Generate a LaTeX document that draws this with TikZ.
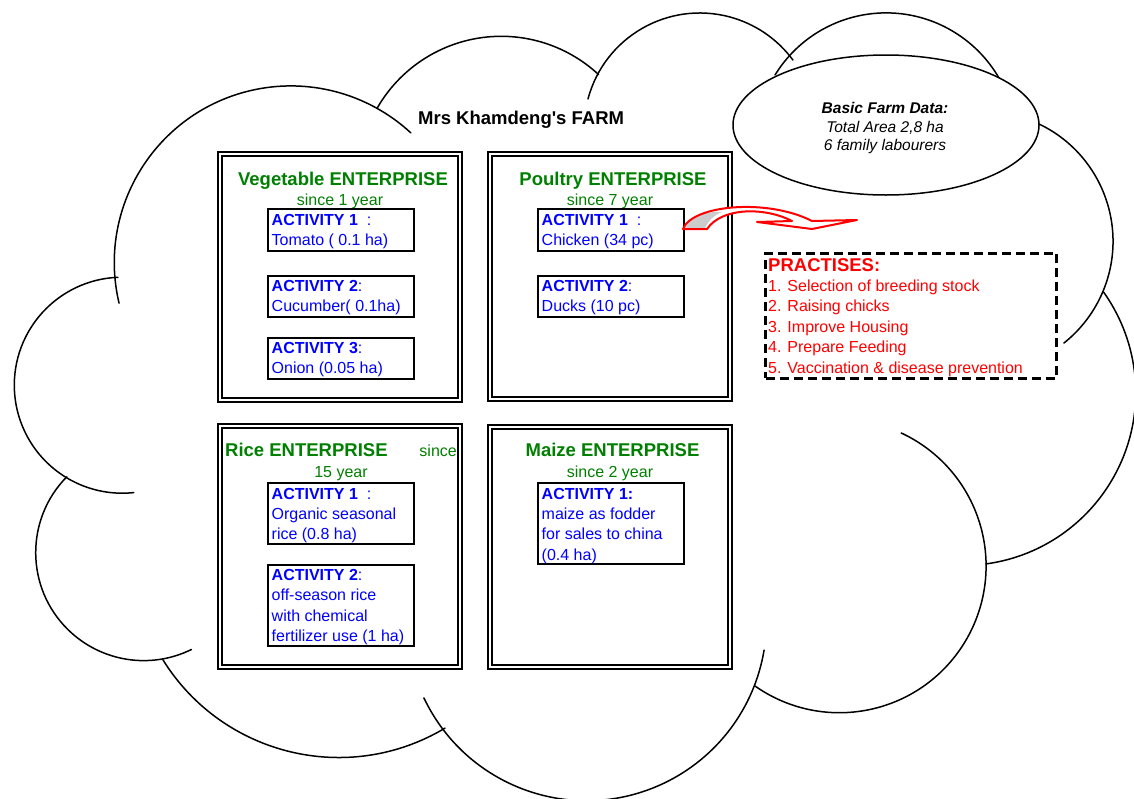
\documentclass[tikz,border=0pt]{standalone}
\usepackage{fontspec}
\setmainfont{Liberation Sans}
\newfontfamily\plainsans{Liberation Sans}[Ligatures=TeXOff]
\usetikzlibrary{shapes.geometric}
\definecolor{entgreen}{RGB}{0,128,0}
\definecolor{actblue}{RGB}{0,0,255}
\definecolor{pred}{RGB}{255,0,0}
\begin{document}
\begin{tikzpicture}[x=1pt,y=-1pt,
  cloudarc/.style={line width=1.5pt, black, line cap=round},
  entbox/.style={draw, line width=1.8pt, double, double distance=2.4pt, rectangle, inner sep=0, fill=white},
  actbox/.style={draw, line width=2pt, rectangle, inner sep=0, minimum width=145.4},
  enttitle/.style={anchor=base, inner sep=0, text=entgreen, font=\fontsize{18.5}{22}\selectfont\bfseries},
  since/.style={anchor=base, inner sep=0, text=entgreen, font=\fontsize{16}{19}\selectfont},
  lt/.style={anchor=base west, inner sep=0, text=actblue, font=\fontsize{16}{19}\selectfont},
  plt/.style={anchor=base west, inner sep=0, text=pred, font=\fontsize{16}{19}\selectfont},
  dt/.style={anchor=base, inner sep=0, text=black, font=\fontsize{15.5}{18}\selectfont\itshape}
]
\useasboundingbox (0,0) rectangle (1134,798);

% cloud outline (separate overlapping arcs)
\draw[cloudarc] (290.9,262.5) ++(166.7:176.6) arc[start angle=166.7, end angle=312.8, radius=176.6];
\draw[cloudarc] (501.2,179.3) ++(210:143) arc[start angle=210, end angle=312.9, radius=143];
\draw[cloudarc] (122.3,385.2) ++(267.7:108) arc[start angle=267.7, end angle=83.9, radius=108];
\draw[cloudarc] (143.7,552.6) ++(224.6:108) arc[start angle=224.6, end angle=63.8, radius=108];
\draw[cloudarc] (338.7,550.5) ++(148.1:207) arc[start angle=148.1, end angle=59.1, radius=207];
\draw[cloudarc] (586.5,620.7) ++(154.6:180) arc[start angle=154.6, end angle=9.4, radius=180];
\draw[cloudarc] (839.4,566) ++(125.1:146.7) arc[start angle=125.1, end angle=-65.1, radius=146.7];
\draw[cloudarc] (962.7,392.5) ++(82.3:173) arc[start angle=82.3, end angle=-35.5, radius=173];
\draw[cloudarc] (983,241.3) ++(294.5:130) arc[start angle=294.5, end angle=411.5, radius=130];
\draw[cloudarc] (886.1,143.3) ++(211.6:130.4) arc[start angle=211.6, end angle=330, radius=130.4];
\draw[cloudarc] (699.8,128.7) ++(194.9:115.7) arc[start angle=194.9, end angle=323.6, radius=115.7];

% farm data ellipse
\node[ellipse, draw, fill=white, line width=1.5pt, minimum width=306, minimum height=140, inner sep=0] (data) at (886,125) {};
\node[dt, font=\fontsize{15.5}{18}\selectfont\bfseries\itshape] (d1) at (885,113.3) {Basic Farm Data:};
\node[dt] (d2) at (885,132.7) {Total Area 2,8 ha};
\node[dt] (d3) at (885,150.7) {6 family labourers};

% title
\node[anchor=base west, inner sep=0, font=\plainsans\fontsize{18.5}{22}\selectfont\bfseries] (farm) at (418,124) {Mrs Khamdeng's FARM};

% enterprise boxes
\node[entbox, minimum width=240, minimum height=246] (veg) at (340,277) {};
\node[entbox, minimum width=240, minimum height=245] (pou) at (610,276.5) {};
\node[entbox, minimum width=240, minimum height=241] (ric) at (340,546.5) {};
\node[entbox, minimum width=240, minimum height=240] (mai) at (610,547) {};

% vegetable
\node[enttitle] (vt) at (343,185) {Vegetable ENTERPRISE};
\node[since] (vs) at (340,205) {since 1 year};
\node[actbox, minimum height=42] (va1) at (341,230.2) {};
\node[actbox, minimum height=40.7] (va2) at (341,296.2) {};
\node[actbox, minimum height=41.7] (va3) at (341,358.4) {};
\node[lt] (va1a) at (271.5,225) {\textbf{ACTIVITY 1}\ \ :};
\node[lt] (va1b) at (271.5,245) {Tomato ( 0.1 ha)};
\node[lt] (va2a) at (271.5,291.5) {\textbf{ACTIVITY 2}:};
\node[lt] (va2b) at (271.5,311.5) {Cucumber( 0.1ha)};
\node[lt] (va3a) at (271.5,353.3) {\textbf{ACTIVITY 3}:};
\node[lt] (va3b) at (271.5,373.3) {Onion (0.05 ha)};

% poultry
\node[enttitle] (pt) at (613,185) {Poultry ENTERPRISE};
\node[since] (ps) at (610,205) {since 7 year};
\node[actbox, minimum height=41.7] (pa1) at (611,230.2) {};
\node[actbox, minimum height=40.7] (pa2) at (611,296.4) {};
\node[lt] (pa1a) at (541.5,225) {\textbf{ACTIVITY 1}\ \ :};
\node[lt] (pa1b) at (541.5,245) {Chicken (34 pc)};
\node[lt] (pa2a) at (541.5,291.5) {\textbf{ACTIVITY 2}:};
\node[lt] (pa2b) at (541.5,311.5) {Ducks (10 pc)};

% rice
\node[enttitle, anchor=base west] (rt) at (225,456) {Rice ENTERPRISE};
\node[since, anchor=base east] (rs1) at (457,456) {since};
\node[since] (rs2) at (341,477) {15 year};
\node[actbox, minimum height=60.4] (ra1) at (341,513.5) {};
\node[actbox, minimum height=80.7] (ra2) at (341,605.7) {};
\node[lt] (ra1a) at (271.5,499) {\textbf{ACTIVITY 1}\ \ :};
\node[lt] (ra1b) at (271.5,519.4) {Organic seasonal};
\node[lt] (ra1c) at (271.5,539.8) {rice (0.8 ha)};
\node[lt] (ra2a) at (271.5,580.5) {\textbf{ACTIVITY 2}:};
\node[lt] (ra2b) at (271.5,600.9) {off-season rice};
\node[lt] (ra2c) at (271.5,621.3) {with chemical};
\node[lt] (ra2d) at (271.5,641.7) {fertilizer use (1 ha)};

% maize
\node[enttitle] (mt) at (612.5,456) {Maize ENTERPRISE};
\node[since] (ms) at (610,477) {since 2 year};
\node[actbox, minimum height=81] (ma1) at (611,523.8) {};
\node[lt] (ma1a) at (541.5,499) {\textbf{ACTIVITY 1:}};
\node[lt] (ma1b) at (541.5,519.4) {maize as fodder};
\node[lt] (ma1c) at (541.5,539.8) {for sales to china};
\node[lt] (ma1d) at (541.5,560.2) {(0.4 ha)};

% practises
\node[draw, line width=3pt, dash pattern=on 9pt off 5pt, rectangle, inner sep=0, minimum width=291, minimum height=125] (prac) at (911.2,315.8) {};
\node[plt, font=\fontsize{18.5}{22}\selectfont\bfseries] (pr0) at (768,271) {PRACTISES:};
\node[plt] (pr1) at (768,291) {1. Selection of breeding stock};
\node[plt] (pr2) at (768,311.5) {2. Raising chicks};
\node[plt] (pr3) at (768,332) {3. Improve Housing};
\node[plt] (pr4) at (768,352.5) {4. Prepare Feeding};
\node[plt] (pr5) at (768,373) {5. Vaccination \& disease prevention};

% curved block arrow from chicken activity toward practises
\fill[white] (683,229) .. controls (692,205) and (767,198) .. (812,221) -- (857,220) -- (812,229) -- (757,222) -- (792,221) .. controls (765,207) and (722,207) .. (707,229) -- cycle;
\fill[gray!40] (685,228) -- (705,228) .. controls (709,220) and (714,215) .. (722,212) .. controls (705,211) and (690,217) .. (685,228) -- cycle;
\draw[pred, line width=2pt, line join=round] (683,229) .. controls (692,205) and (767,198) .. (812,221) -- (857,220) -- (812,229) -- (757,222) -- (792,221) .. controls (765,207) and (722,207) .. (707,229) -- cycle;
\end{tikzpicture}
\end{document}
